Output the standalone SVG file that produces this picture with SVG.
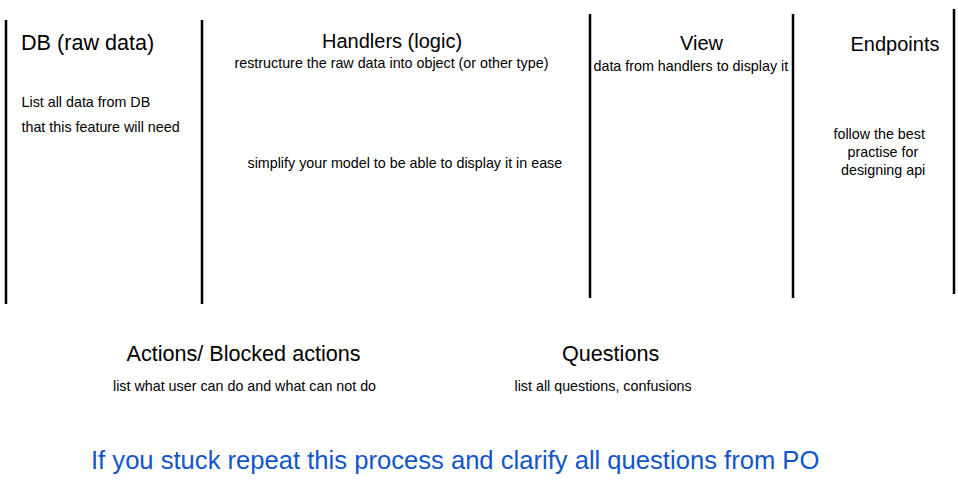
<svg xmlns="http://www.w3.org/2000/svg" width="958" height="498" viewBox="0 0 958 498">
  <style>
    text { font-family: "Liberation Sans", Arial, sans-serif; fill: #000; }
    .title { font-size: 20px; }
    .big { font-size: 21.6px; }
    .sub { font-size: 14.3px; }
    .blue { font-size: 25.6px; fill: #1155cc; }
    .sep { stroke: #000; stroke-width: 2.5; fill: none; }
  </style>
  <rect width="958" height="498" fill="#fff"/>
  <g id="separators">
    <line class="sep" x1="6" y1="20" x2="6" y2="304"/>
    <line class="sep" x1="202" y1="20" x2="202" y2="304"/>
    <line class="sep" x1="590" y1="14" x2="590" y2="298"/>
    <line class="sep" x1="793" y1="14" x2="793" y2="298"/>
    <line class="sep" x1="954" y1="9" x2="954" y2="294"/>
  </g>
  <g id="db">
    <text class="big" x="21" y="50">DB (raw data)</text>
    <text class="sub" x="21.5" y="106.5">List all data from DB</text>
    <text class="sub" x="21.5" y="131.5">that this feature will need</text>
  </g>
  <g id="handlers">
    <text class="title" x="322" y="47.5">Handlers (logic)</text>
    <text class="sub" x="234.5" y="68">restructure the raw data into object (or other type)</text>
    <text class="sub" x="247.5" y="167.5">simplify your model to be able to display it in ease</text>
  </g>
  <g id="view">
    <text class="title" x="680" y="50">View</text>
    <text class="sub" x="593.5" y="71">data from handlers to display it</text>
  </g>
  <g id="endpoints">
    <text class="title" x="850.5" y="50.5">Endpoints</text>
    <text class="sub" x="833.5" y="139">follow the best</text>
    <text class="sub" x="847.5" y="157">practise for</text>
    <text class="sub" x="841" y="174.5">designing api</text>
  </g>
  <g id="actions">
    <text class="big" x="126.5" y="361">Actions/ Blocked actions</text>
    <text class="sub" x="113" y="391">list what user can do and what can not do</text>
  </g>
  <g id="questions">
    <text class="big" x="562" y="361">Questions</text>
    <text class="sub" x="514.5" y="391">list all questions, confusions</text>
  </g>
  <g id="note">
    <text class="blue" x="91" y="469">If you stuck repeat this process and clarify all questions from PO</text>
  </g>
</svg>
